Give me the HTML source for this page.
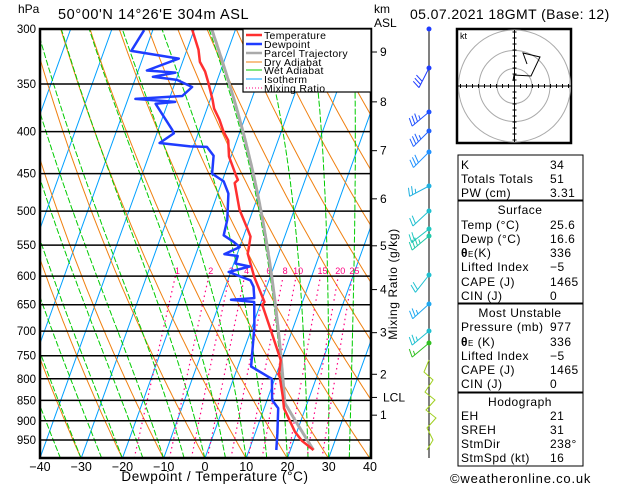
<!DOCTYPE html>
<html><head><meta charset="utf-8"><style>
body{margin:0;background:#fff;}
svg{display:block;font-family:"Liberation Sans",sans-serif;}
</style></head><body>
<svg id="c" width="629" height="486" viewBox="0 0 629 486" xmlns="http://www.w3.org/2000/svg">
<defs><clipPath id="pc"><rect x="40" y="29" width="331" height="429"/></clipPath>
<clipPath id="hc"><rect x="457" y="29" width="114" height="114"/></clipPath></defs>
<rect width="629" height="486" fill="#fff"/>
<g id="grid" clip-path="url(#pc)"></g>
<g id="series" clip-path="url(#pc)"></g>
<rect x="40" y="29" width="331" height="429" fill="none" stroke="#000" stroke-width="2.5"/>
<g id="axes"></g>
<text x="18" y="13" font-size="12">hPa</text>
<text x="58" y="19" font-size="14.5" letter-spacing="0.6">50°00'N  14°26'E  304m  ASL</text>
<text x="374" y="13" font-size="12">km</text>
<text x="374" y="27" font-size="12">ASL</text>
<text x="410" y="19" font-size="14" letter-spacing="0.4">05.07.2021  18GMT  (Base: 12)</text>
<text x="215" y="481" font-size="13.5" text-anchor="middle" letter-spacing="0.6">Dewpoint / Temperature (°C)</text>
<text transform="translate(397,284) rotate(-90)" font-size="12" text-anchor="middle" letter-spacing="0.6">Mixing Ratio (g/kg)</text>
<g>
<rect x="243" y="29" width="128" height="63" fill="#fff" stroke="#000" stroke-width="1.2"/>
<g font-size="10.5" letter-spacing="0.3">
<line x1="246" y1="35" x2="262" y2="35" stroke="#ff3030" stroke-width="2.5"/><text x="264" y="39">Temperature</text>
<line x1="246" y1="44" x2="262" y2="44" stroke="#1f3cff" stroke-width="2.5"/><text x="264" y="48">Dewpoint</text>
<line x1="246" y1="53" x2="262" y2="53" stroke="#aaa" stroke-width="2.5"/><text x="264" y="57">Parcel Trajectory</text>
<line x1="246" y1="62" x2="262" y2="62" stroke="#f08010" stroke-width="1"/><text x="264" y="66">Dry Adiabat</text>
<line x1="246" y1="70" x2="262" y2="70" stroke="#00cc00" stroke-width="1"/><text x="264" y="74">Wet Adiabat</text>
<line x1="246" y1="79" x2="262" y2="79" stroke="#00a0ff" stroke-width="1"/><text x="264" y="83">Isotherm</text>
<line x1="246" y1="88" x2="262" y2="88" stroke="#ff0080" stroke-width="1" stroke-dasharray="1,2"/><text x="264" y="92">Mixing Ratio</text>
</g></g>
<g id="winds"></g>
<g id="hodo"></g>
<g font-size="12" letter-spacing="0.5">
<rect x="458" y="155" width="125" height="45" fill="none" stroke="#000"/>
<rect x="458" y="201" width="125" height="102" fill="none" stroke="#000"/>
<rect x="458" y="304" width="125" height="88" fill="none" stroke="#000"/>
<rect x="458" y="393" width="125" height="73" fill="none" stroke="#000"/>
<text x="461" y="169">K</text><text x="550" y="169">34</text>
<text x="461" y="183">Totals Totals</text><text x="550" y="183">51</text>
<text x="461" y="197">PW (cm)</text><text x="550" y="197">3.31</text>
<text x="520" y="214" text-anchor="middle">Surface</text>
<text x="461" y="229">Temp (°C)</text><text x="550" y="229">25.6</text>
<text x="461" y="243">Dewp (°C)</text><text x="550" y="243">16.6</text>
<text x="461" y="257"><tspan font-weight="bold">θ</tspan><tspan font-size="8">E</tspan>(K)</text><text x="550" y="257">336</text>
<text x="461" y="271">Lifted Index</text><text x="550" y="271">−5</text>
<text x="461" y="286">CAPE (J)</text><text x="550" y="286">1465</text>
<text x="461" y="300">CIN (J)</text><text x="550" y="300">0</text>
<text x="520" y="317" text-anchor="middle">Most Unstable</text>
<text x="461" y="331">Pressure (mb)</text><text x="550" y="331">977</text>
<text x="461" y="346"><tspan font-weight="bold">θ</tspan><tspan font-size="8">E</tspan> (K)</text><text x="550" y="346">336</text>
<text x="461" y="360">Lifted Index</text><text x="550" y="360">−5</text>
<text x="461" y="374">CAPE (J)</text><text x="550" y="374">1465</text>
<text x="461" y="388">CIN (J)</text><text x="550" y="388">0</text>
<text x="520" y="406" text-anchor="middle">Hodograph</text>
<text x="461" y="420">EH</text><text x="550" y="420">21</text>
<text x="461" y="434">SREH</text><text x="550" y="434">31</text>
<text x="461" y="448">StmDir</text><text x="550" y="448">238°</text>
<text x="461" y="462">StmSpd (kt)</text><text x="550" y="462">16</text>
</g>
<text x="450" y="483" font-size="13" letter-spacing="0.8">©weatheronline.co.uk</text>
</svg>
<script>
const isobars=[300,350,400,450,500,550,600,650,700,750,800,850,900,950];
const tempTicks=[-40,-30,-20,-10,0,10,20,30,40];
const kmLabels=['9','8','7','6','5','4','3','2','LCL','1'];
const kmPressures=[320,368,422,483,551,623,703,790,843,886];
const mixRatios=[1,2,3,4,6,8,10,15,20,25];
const mixLabels=['1','2','3','4','6','8','10','15','20','25'];
const tempP=[300,318,329,338,349,366,375,387,400,410,429,452,458,462,498,527,537,558,563,601,645,650,698,759,788,841,869,928,952,977];
const tempT=[-40.6,-37.2,-35.8,-33.7,-31.9,-29.4,-28.3,-26.0,-24.0,-22.1,-20.5,-17.2,-16.3,-16.8,-13.3,-9.5,-8.3,-7.6,-7.5,-3.9,0.8,0.5,4.8,9.8,10.6,13.5,14.8,19.5,22,25.6];
const dewP=[301,319,326,337,339,343,346,353,362,365,368,370,398,402,413,417,417.5,428,450,460,476,512,535,545,553,564,567,579,584,593,607,618,638,641,645,691,773,794,800,849,869,932,977];
const dewT=[-52.1,-53.4,-41.2,-47.9,-40.8,-45.9,-39.8,-35.5,-37.1,-48.2,-38.3,-42.9,-36.6,-35.9,-38.5,-30.8,-26.7,-24.3,-23.1,-19.6,-17.4,-15.4,-14.9,-11.9,-10,-13.1,-9.7,-9.6,-5.9,-10.5,-4.5,-3.2,-2,-7.5,-1.7,0.5,3.2,7.9,9.3,11.2,13.4,15.4,16.6];
const sfcP=977, sfcT=25.6, sfcTd=16.6;
const windY=[29,68,112,131,152,186,211,229,236,275,304,331,343];
const windAngle=[0,27,50,45,45,62,47,52,50,38,48,50,50];
const windSpd=[0,30,35,35,30,25,20,20,35,20,25,25,15];
const windColor=['#1f3cff','#1f3cff','#1f50ff','#1f60ff','#1f90ff','#1fb0e0','#1fc0d0','#1fc8c0','#1fc8a8','#1fc0d0','#1fa8f0','#1fc0d0','#30c020'];

const NS='http://www.w3.org/2000/svg';
function mk(parent,tag,attrs){const e=document.createElementNS(NS,tag);for(const k in attrs)e.setAttribute(k,attrs[k]);parent.appendChild(e);return e;}
function yP(p){return 29+356.6*Math.log(p/300);}
function xT(T,p){return 40+(T+40)*4.125+0.36*(458-yP(p));}
const grid=document.getElementById('grid'),series=document.getElementById('series'),axes=document.getElementById('axes');
function pathFrom(pts){return pts.map((q,i)=>(i?'L':'M')+q[0].toFixed(1)+','+q[1].toFixed(1)).join('');}
for(let T=-120;T<=40;T+=10){
 const e=mk(grid,'line',{x1:xT(T,1000),y1:yP(1000),x2:xT(T,300),y2:yP(300),stroke:'#00a0ff','stroke-width':1});
 
 
}
for(let th=-40;th<=200;th+=10){const pts=[];for(let p=1000;p>=300;p-=10){const T=(th+273.15)*Math.pow(p/1000,0.2857)-273.15;pts.push([xT(T,p),yP(p)]);}
 const e=mk(grid,'path',{d:pathFrom(pts),fill:'none',stroke:'#f08010','stroke-width':1});
 
 
}
function es(T){return 6.112*Math.exp(17.67*T/(T+243.5));}
function moist(T0,p0,pEnd){const pts=[];let T=T0;for(let p=p0;p>=pEnd;p-=2){pts.push([xT(T,p),yP(p)]);const Tk=T+273.15,e=es(T),rs=0.622*e/(p-e);const d=(287*Tk+2.5e6*rs)/(p*(1004+2.5e6*2.5e6*rs*0.622/(287*Tk*Tk)));T-=d*2;}return pts;}
for(let T0=-35;T0<=40;T0+=5){
 const e=mk(grid,'path',{d:pathFrom(moist(T0,1000,300)),fill:'none',stroke:'#00cc00','stroke-width':1,'stroke-dasharray':'6,2'});
 
 
}
function tdFromW(w,p){const e=w*p/(622+w),l=Math.log(e/6.112);return 243.5*l/(17.67-l);}
mixRatios.forEach((w,i)=>{const pts=[];for(let p=1000;p>=600;p-=10)pts.push([xT(tdFromW(w,p),p),yP(p)]);
 const e=mk(grid,'path',{d:pathFrom(pts),fill:'none',stroke:'#ff0080','stroke-width':1.2,'stroke-dasharray':'1.5,3.5'});
 
 
 const t=mk(grid,'text',{x:xT(tdFromW(w,600),600)+2,y:yP(600)-2,'font-size':9,fill:'#ff0080','text-anchor':'middle'});t.textContent=mixLabels[i];
 
 
});
isobars.forEach(p=>{
 const e=mk(grid,'line',{x1:40,x2:371,y1:yP(p),y2:yP(p),stroke:'#000','stroke-width':1.5});
 
 
 const t=mk(axes,'text',{x:36,y:yP(p)+4,'font-size':11.5,'text-anchor':'end'});t.textContent=p;
 
 
});
tempTicks.forEach(T=>{const t=mk(axes,'text',{x:40+(T+40)*4.125,y:471,'font-size':12.5,'text-anchor':'middle'});t.textContent=(T<0?'−':'')+Math.abs(T);
 
 
});
kmLabels.forEach((k,i)=>{const y=yP(kmPressures[i]);mk(axes,'line',{x1:371,x2:377,y1:y,y2:y,stroke:'#000'});
 const t=mk(axes,'text',{x:k==='LCL'?383:380,y:y+4,'font-size':12});t.textContent=k;
 
 
});
(function(){const pts=[];const Tk=sfcT+273.15;const Tl=sfcTd-(0.212+0.001571*sfcTd-0.000436*sfcT)*(sfcT-sfcTd);const pl=sfcP*Math.pow((Tl+273.15)/Tk,3.5);
 for(let p=sfcP;p>pl;p-=5){pts.push([xT(Tk*Math.pow(p/sfcP,0.2857)-273.15,p),yP(p)]);}
 const m=moist(Tl,pl,300);
 const e=mk(series,'path',{d:pathFrom(pts.concat(m)),fill:'none',stroke:'#aaa','stroke-width':3});
 
 
})();
const tl=mk(series,'path',{d:pathFrom(tempP.map((p,i)=>[xT(tempT[i],p),yP(p)])),fill:'none',stroke:'#ff3030','stroke-width':2.5,'stroke-linejoin':'round'});


const dl=mk(series,'path',{d:pathFrom(dewP.map((p,i)=>[xT(dewT[i],p),yP(p)])),fill:'none',stroke:'#1f3cff','stroke-width':2.5,'stroke-linejoin':'round'});


const W=document.getElementById('winds');
mk(W,'line',{x1:429,y1:29,x2:429,y2:458,stroke:'#000','stroke-width':1});
windY.forEach((y,i)=>{const g=mk(W,'g',{stroke:windColor[i],fill:windColor[i],'stroke-width':1});
 
 
 mk(g,'circle',{cx:429,cy:y,r:2});
 if(!windSpd[i])return;const a=windAngle[i]*Math.PI/180,L=22,dx=-Math.sin(a),dy=Math.cos(a);
 const x1=429+dx*L,y1=y+dy*L;mk(g,'line',{x1:429,y1:y,x2:x1,y2:y1});
 let n=windSpd[i]/10,k=0;const px=-dy,py=dx;
 while(n>0.4){const f=n>=1?1:0.5,bx=x1-dx*k*3.5,by=y1-dy*k*3.5;mk(g,'line',{x1:bx,y1:by,x2:bx+(px*8-dx*3)*f,y2:by+(py*8-dy*3)*f});n-=f;k++;}
});
mk(W,'polyline',{points:'429,360 424,372 433,380 425,392 435,400 426,410 436,418 427,428 433,440 427,450',fill:'none',stroke:'#a0d020','stroke-width':1});
const H=document.getElementById('hodo');
mk(H,'rect',{x:457,y:29,width:114,height:114,fill:'#fff',stroke:'#000','stroke-width':2.5});
const hc=mk(H,'g',{'clip-path':'url(#hc)'});
[17.5,35.5,56].forEach(r=>mk(hc,'circle',{cx:514.5,cy:86,r:r,fill:'none',stroke:'#aaa'}));
mk(H,'line',{x1:458,x2:571,y1:86,y2:86,stroke:'#000'});mk(H,'line',{x1:514.5,x2:514.5,y1:30,y2:142,stroke:'#000'});
for(let d=-54;d<=54;d+=6){mk(H,'line',{x1:514.5+d,x2:514.5+d,y1:84,y2:88,stroke:'#000'});mk(H,'line',{x1:512.5,x2:516.5,y1:86+d,y2:86+d,stroke:'#000'});}
mk(H,'polyline',{points:'513,81 514,75 531,76 540,57 523,53 527,64',fill:'none',stroke:'#000','stroke-width':1});
mk(H,'text',{x:460,y:39,'font-size':9}).textContent='kt';
</script>
</body></html>
